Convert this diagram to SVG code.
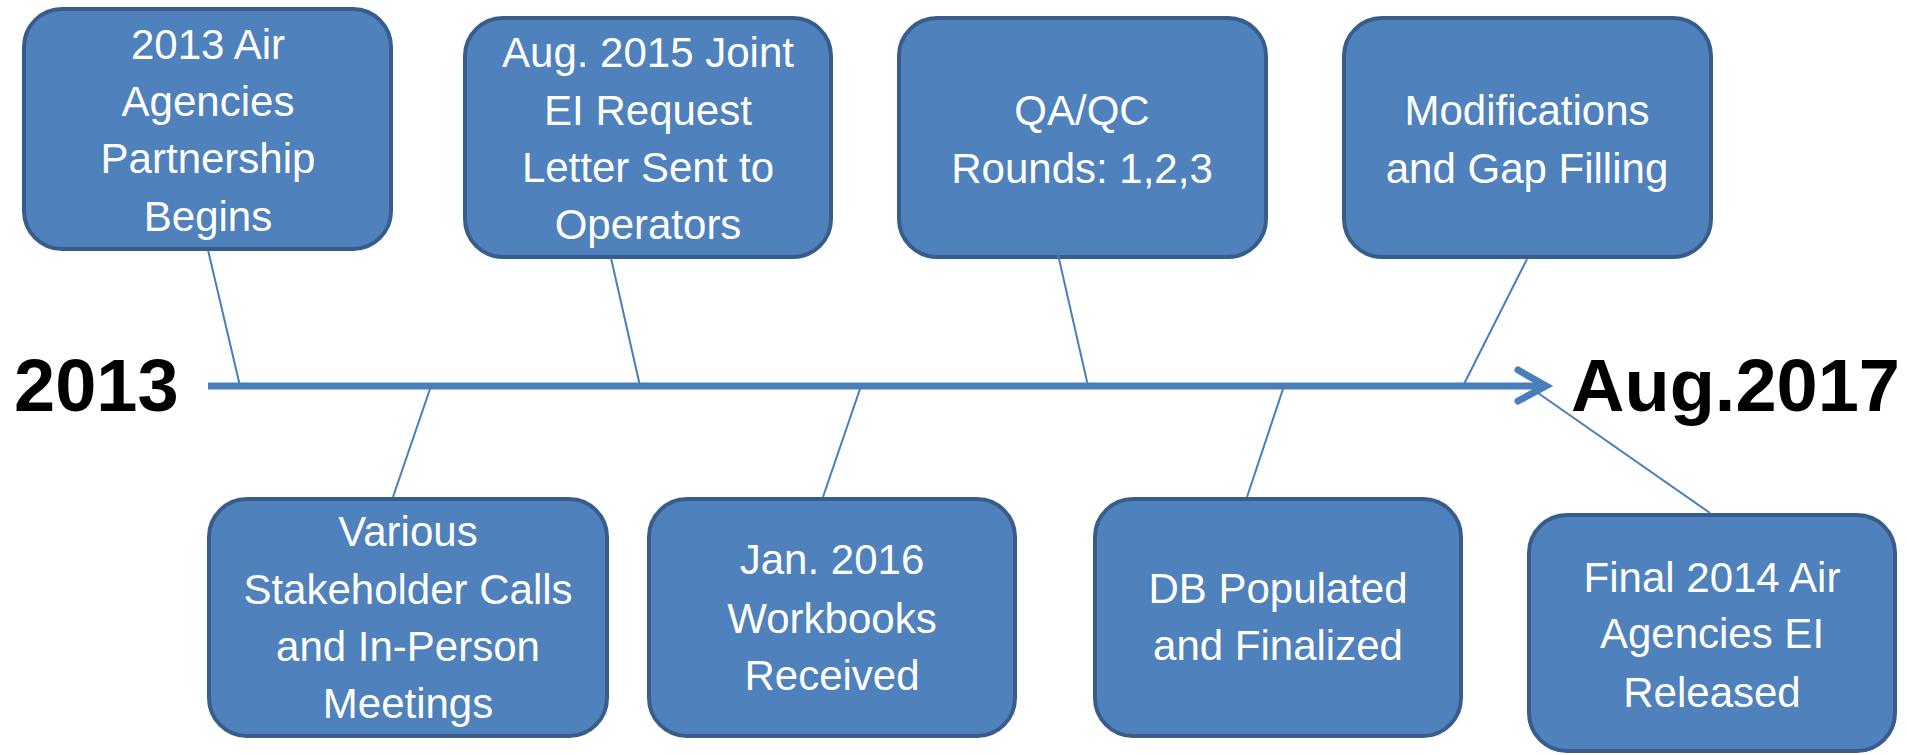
<svg xmlns="http://www.w3.org/2000/svg" width="1907" height="755" viewBox="0 0 1907 755">
<style>
.box{fill:#4F81BD;stroke:#385D8A;stroke-width:4}
.t{font-family:"Liberation Sans",Arial,sans-serif;font-size:42px;fill:#FFFFFF;text-anchor:middle}
.yr{font-family:"Liberation Sans",Arial,sans-serif;font-size:74px;font-weight:bold;fill:#000000}
.c{stroke:#4A7EBB;stroke-width:2;fill:none}
.tl{stroke:#4A7EBB;stroke-width:7;fill:none}
</style>
<rect width="1907" height="755" fill="#FFFFFF"/>
<g id="node-a"><rect class="box" x="24" y="9" width="367" height="240" rx="38"/>
<text class="t" x="208" y="59">2013 Air</text><text class="t" x="208" y="116">Agencies</text><text class="t" x="208" y="173">Partnership</text><text class="t" x="208" y="231">Begins</text></g>
<g id="node-b"><rect class="box" x="465" y="18" width="366" height="239" rx="38"/>
<text class="t" x="648" y="67">Aug. 2015 Joint</text><text class="t" x="648" y="125">EI Request</text><text class="t" x="648" y="182">Letter Sent to</text><text class="t" x="648" y="239">Operators</text></g>
<g id="node-c"><rect class="box" x="899" y="18" width="367" height="239" rx="38"/>
<text class="t" x="1082" y="125">QA/QC</text><text class="t" x="1082" y="183">Rounds: 1,2,3</text></g>
<g id="node-d"><rect class="box" x="1344" y="18" width="367" height="239" rx="38"/>
<text class="t" x="1527" y="125">Modifications</text><text class="t" x="1527" y="183">and Gap Filling</text></g>
<g id="node-e"><rect class="box" x="209" y="499" width="398" height="237" rx="38"/>
<text class="t" x="408" y="546">Various</text><text class="t" x="408" y="604">Stakeholder Calls</text><text class="t" x="408" y="661">and In-Person</text><text class="t" x="408" y="718">Meetings</text></g>
<g id="node-f"><rect class="box" x="649" y="499" width="366" height="237" rx="38"/>
<text class="t" x="832" y="574">Jan. 2016</text><text class="t" x="832" y="633">Workbooks</text><text class="t" x="832" y="690">Received</text></g>
<g id="node-g"><rect class="box" x="1095" y="499" width="366" height="237" rx="38"/>
<text class="t" x="1278" y="603">DB Populated</text><text class="t" x="1278" y="660">and Finalized</text></g>
<g id="node-h"><rect class="box" x="1529" y="515" width="366" height="236" rx="38"/>
<text class="t" x="1712" y="592">Final 2014 Air</text><text class="t" x="1712" y="648">Agencies EI</text><text class="t" x="1712" y="707">Released</text></g>
<g id="start"><text class="yr" x="14" y="411">2013</text></g>
<g id="end"><text class="yr" x="1571" y="411">Aug.2017</text></g>
<g id="connectors">
<line class="tl" x1="208" y1="386" x2="1544" y2="386"/>
<polyline class="tl" points="1518,370 1546,386 1518,401" stroke-linecap="round" stroke-linejoin="miter"/>
<line class="c" x1="208" y1="250" x2="240" y2="386"/>
<line class="c" x1="611" y1="258" x2="640" y2="386"/>
<line class="c" x1="1057" y1="250" x2="1088" y2="386"/>
<line class="c" x1="1527" y1="259" x2="1463" y2="386"/>
<line class="c" x1="393" y1="497" x2="431" y2="386"/>
<line class="c" x1="823" y1="497" x2="861" y2="386"/>
<line class="c" x1="1247" y1="497" x2="1284" y2="386"/>
<line class="c" x1="1538" y1="393" x2="1710" y2="513"/>
</g>
</svg>
